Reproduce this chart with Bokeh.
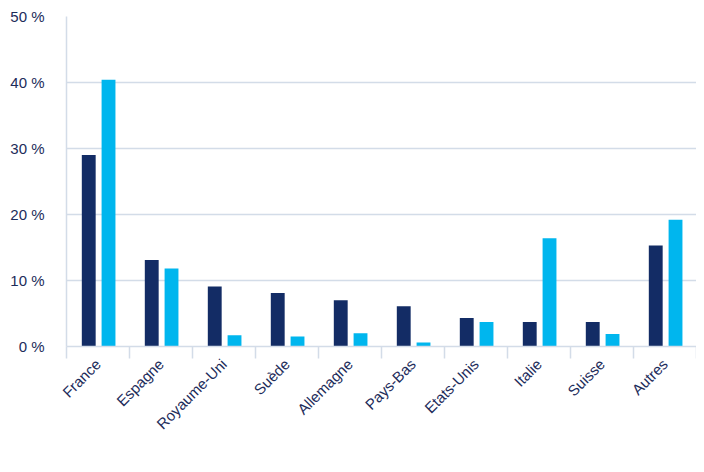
from bokeh.plotting import figure
from bokeh.models import (Range1d, LinearAxis, FixedTicker,
                          ColumnDataSource, Legend, LegendItem)
from bokeh.transform import dodge
from bokeh.embed import file_html
from bokeh.resources import INLINE
import math

categories = ["France", "Espagne", "Royaume-Uni", "Suède", "Allemagne",
              "Pays-Bas", "Etats-Unis", "Italie", "Suisse", "Autres"]
poids = [29.0, 13.1, 9.1, 8.1, 7.0, 6.1, 4.3, 3.7, 3.7, 15.3]
contribution = [40.4, 11.8, 1.7, 1.5, 2.0, 0.6, 3.7, 16.4, 1.9, 19.2]
y_ticks = [0, 10, 20, 30, 40, 50]
y_labels = {t: f"{t} %" for t in y_ticks}
series_names = ["Poids de l'encours notable", "Contribution aux émissions"]

DARK = "#132c65"
CYAN = "#00b6ee"
GRID = "#d3dce8"
TXT = "#1d2c5a"
FONT = "Liberation Sans"

n = len(categories)
centers = [i + 0.5 for i in range(n)]
src = ColumnDataSource(dict(center=centers, poids=poids, contribution=contribution))

p = figure(frame_width=630, frame_height=330, output_backend="svg", toolbar_location=None,
           x_range=Range1d(0, n), y_range=Range1d(0, 50),
           x_axis_location=None, y_axis_location="left",
           min_border_top=16, min_border_left=66, min_border_right=0, min_border_bottom=0)
p.outline_line_color = None
p.background_fill_color = "white"
p.xgrid.visible = False
p.ygrid.grid_line_color = GRID
p.ygrid.grid_line_width = 1.5
p.ygrid.ticker = FixedTicker(ticks=y_ticks)

yax = p.yaxis[0]
yax.ticker = FixedTicker(ticks=y_ticks)
yax.major_label_overrides = y_labels
yax.major_label_text_font = FONT
yax.major_label_text_font_size = "15px"
yax.major_label_text_color = TXT
yax.major_label_standoff = 22
yax.major_tick_out = 0
yax.major_tick_in = 0
yax.major_tick_line_color = None
yax.minor_tick_line_color = None
yax.axis_line_color = GRID
yax.axis_line_width = 1.5

# category axis: labels at centers, boundary marks as minor ticks
cat_axis = LinearAxis(ticker=FixedTicker(ticks=centers, minor_ticks=list(range(n + 1))),
                      major_label_overrides={c: lab for c, lab in zip(centers, categories)},
                      major_label_orientation=math.pi / 4,
                      major_label_text_font=FONT, major_label_text_font_size="15px",
                      major_label_text_color=TXT, major_label_standoff=3,
                      major_tick_out=12, major_tick_in=0, major_tick_line_color=None,
                      minor_tick_out=12, minor_tick_in=0, minor_tick_line_color=GRID,
                      minor_tick_line_width=1.5,
                      axis_line_color=GRID, axis_line_width=1.5)
p.add_layout(cat_axis, "below")

r1 = p.vbar(x=dodge("center", -0.147), top="poids", width=0.22,
            source=src, fill_color=DARK, line_color=None)
r2 = p.vbar(x=dodge("center", 0.167), top="contribution", width=0.22,
            source=src, fill_color=CYAN, line_color=None)

legend = Legend(items=[LegendItem(label=series_names[0], renderers=[r1]),
                       LegendItem(label=series_names[1], renderers=[r2])],
                orientation="horizontal", location=(39, 12),
                label_text_font=FONT, label_text_font_size="16px", label_text_color="#404040",
                glyph_width=23, glyph_height=16, label_standoff=7, spacing=12,
                padding=0, margin=0, border_line_color=None, background_fill_alpha=0)
p.add_layout(legend, "below")

open("out.html", "w").write(file_html(p, INLINE))
